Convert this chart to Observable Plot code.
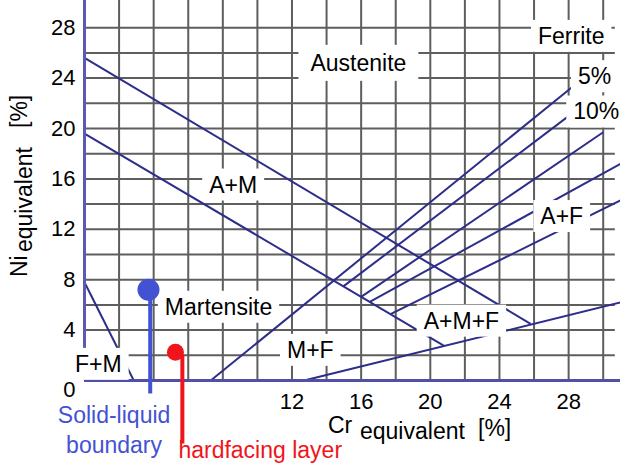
<!DOCTYPE html>
<html>
<head>
<meta charset="utf-8">
<script src="https://cdn.jsdelivr.net/npm/d3@7"></script>
<script src="https://cdn.jsdelivr.net/npm/@observablehq/plot@0.6"></script>
<style>
  html, body { margin: 0; padding: 0; background: #fff; overflow: hidden; }
  svg { display: block; }
</style>
</head>
<body>
<div id="chart"></div>
<script>
// ---- tick labels ----
const xTicks = [12, 16, 20, 24, 28];
const yTicks = [4, 8, 12, 16, 20, 24, 28];
const gridX = [2, 4, 6, 8, 10, 12, 14, 16, 18, 20, 22, 24, 26, 28, 30];
const gridY = [2, 4, 6, 8, 10, 12, 14, 16, 18, 20, 22, 24, 26, 28];

// ---- phase boundary lines (Cr_eq start/end, Ni_eq start/end) ----
const boundaryIds = ["A/A+M", "A+M/M", "M+F", "M/5%", "10%", "f3", "f4", "f5", "F+M"];
const boundaryCr  = [[0, 25.8], [0, 20.8], [12.7, 31], [7.3, 28.3], [14.97, 28.3], [16.0, 30.0], [16.5, 31], [17.7, 31], [0, 2.85]];
const boundaryNi  = [[25.6, 4.5], [19.6, 2.75], [0, 6.2], [0, 23.4], [7.47, 21.3], [6.64, 19.7], [6.24, 17.2], [5.26, 14.3], [7.8, 0]];

// ---- region labels ----
const labelText = ["Austenite", "Ferrite", "5%", "10%", "A+M", "A+F", "Martensite", "M+F", "A+M+F", "F+M"];
const labelCr   = [15.84, 28.15, 29.5, 29.6, 8.6, 27.6, 7.75, 13.06, 21.8, 0.8];
const labelNi   = [25.16, 27.3, 24.1, 21.3, 15.5, 13.0, 5.8, 2.38, 4.7, 1.27];

// ---- measured points ----
const solidLiquidCr = [3.7];
const solidLiquidNi = [7.2];
const solidStemCr = [3.8, 3.8];
const solidStemNi = [7.2, -1.03];
const hardfacingCr = [5.26];
const hardfacingNi = [2.25];
const hardStemCr = [5.26, 5.66, 5.66];
const hardStemNi = [2.25, 1.95, -5.0];

const annoText = ["Solid-liquid", "boundary"];
const annoCr = [1.71, 1.71];
const annoNi = [-2.78, -5.16];
const hardText = ["hardfacing layer"];
const hardTextCr = [5.43];
const hardTextNi = [-5.6];

// ---- build tables ----
const segments = [];
boundaryIds.forEach((id, i) => {
  segments.push({id, cr: boundaryCr[i][0], ni: boundaryNi[i][0]});
  segments.push({id, cr: boundaryCr[i][1], ni: boundaryNi[i][1]});
});
const labels = labelText.map((t, i) => ({t, cr: labelCr[i], ni: labelNi[i]}));
const zip = (a, b) => a.map((v, i) => ({cr: v, ni: b[i]}));
const annos = annoText.map((t, i) => ({t, cr: annoCr[i], ni: annoNi[i]}));
const hardLabel = hardText.map((t, i) => ({t, cr: hardTextCr[i], ni: hardTextNi[i]}));

const BLUE = "#4352d3";
const RED = "#f0141b";
const LINE = "#2d2d8a";
const GRID = "#5e5e5e";
const FONT = "'Liberation Sans', Arial, Helvetica, sans-serif";

const chart = Plot.plot({
  width: 620,
  height: 473,
  marginLeft: 84,
  marginRight: 0,
  marginTop: 2,
  marginBottom: 93,
  x: {domain: [0, 31], axis: null, label: null},
  y: {domain: [0, 30], axis: null, label: null},
  style: {fontFamily: FONT, fontSize: "22px", color: "black", background: "white", overflow: "visible"},
  marks: [
    Plot.ruleX(gridX, {y1: 0, y2: 30.2, stroke: GRID, strokeWidth: 2}),
    Plot.ruleY(gridY, {x1: 0, x2: 30.7, stroke: GRID, strokeWidth: 2}),
    Plot.line(segments, {x: "cr", y: "ni", z: "id", stroke: LINE, strokeWidth: 2, strokeLinecap: "butt"}),
    Plot.ruleX([0], {y1: 0, y2: 30.2, stroke: "#5a5ab6", strokeWidth: 3}),
    Plot.ruleY([0], {x1: 0, x2: 31, stroke: "#5050a8", strokeWidth: 3}),
    Plot.axisY(yTicks, {tickSize: 0, tickPadding: 9, label: null, fontSize: 22}),
    Plot.axisY([0], {tickSize: 0, tickPadding: 9, dy: 9, label: null, fontSize: 22}),
    Plot.axisX(xTicks, {tickSize: 0, tickPadding: 13, label: null, fontSize: 22}),
    Plot.text(labels, {x: "cr", y: "ni", text: "t", fill: "black", fontSize: 23}),
    Plot.line(zip(solidStemCr, solidStemNi), {x: "cr", y: "ni", stroke: BLUE, strokeWidth: 4, strokeLinecap: "butt"}),
    Plot.dot(zip(solidLiquidCr, solidLiquidNi), {x: "cr", y: "ni", r: 11, fill: BLUE}),
    Plot.line(zip(hardStemCr, hardStemNi), {x: "cr", y: "ni", stroke: RED, strokeWidth: 4, strokeLinecap: "butt"}),
    Plot.dot(zip(hardfacingCr, hardfacingNi), {x: "cr", y: "ni", r: 8.5, fill: RED}),
    Plot.text(annos, {x: "cr", y: "ni", text: "t", fill: BLUE, fontSize: 23}),
    Plot.text(hardLabel, {x: "cr", y: "ni", text: "t", fill: RED, fontSize: 23, textAnchor: "start"})
  ]
});

document.getElementById("chart").appendChild(chart);

// white boxes behind region labels
const svgNS = "http://www.w3.org/2000/svg";
const labelNodes = Array.from(chart.querySelectorAll("text")).filter(t => labelText.includes(t.textContent));
if (labelNodes.length) {
  const lg = labelNodes[0].parentNode;
  const rg = document.createElementNS(svgNS, "g");
  if (lg.getAttribute("transform")) rg.setAttribute("transform", lg.getAttribute("transform"));
  lg.parentNode.insertBefore(rg, lg);
  labelNodes.forEach(t => {
    const b = t.getBBox();
    const r = document.createElementNS(svgNS, "rect");
    const px = t.textContent === "Austenite" ? 12 : 7;
    const py = t.textContent === "Austenite" ? 5 : 3;
    r.setAttribute("x", b.x - px);
    r.setAttribute("y", b.y - py);
    r.setAttribute("width", b.width + 2 * px);
    r.setAttribute("height", b.height + 2 * py);
    r.setAttribute("fill", "white");
    if (t.getAttribute("transform")) r.setAttribute("transform", t.getAttribute("transform"));
    rg.appendChild(r);
  });
}

// axis titles with subscripts
const svg = d3.select(chart);
const xt = svg.append("g").attr("font-family", FONT).attr("font-size", 23).attr("fill", "black")
  .attr("text-anchor", "start");
xt.append("text").attr("x", 328).attr("y", 433).text("Cr");
xt.append("text").attr("x", 360).attr("y", 439).text("equivalent");
xt.append("text").attr("x", 478).attr("y", 436).text("[%]");

const yt = svg.append("g").attr("font-family", FONT).attr("font-size", 23).attr("fill", "black")
  .attr("text-anchor", "start").attr("transform", "rotate(-90)");
yt.append("text").attr("x", -277).attr("y", 27).text("Ni");
yt.append("text").attr("x", -252).attr("y", 32).text("equivalent");
yt.append("text").attr("x", -128).attr("y", 27).text("[%]");
</script>
</body>
</html>
